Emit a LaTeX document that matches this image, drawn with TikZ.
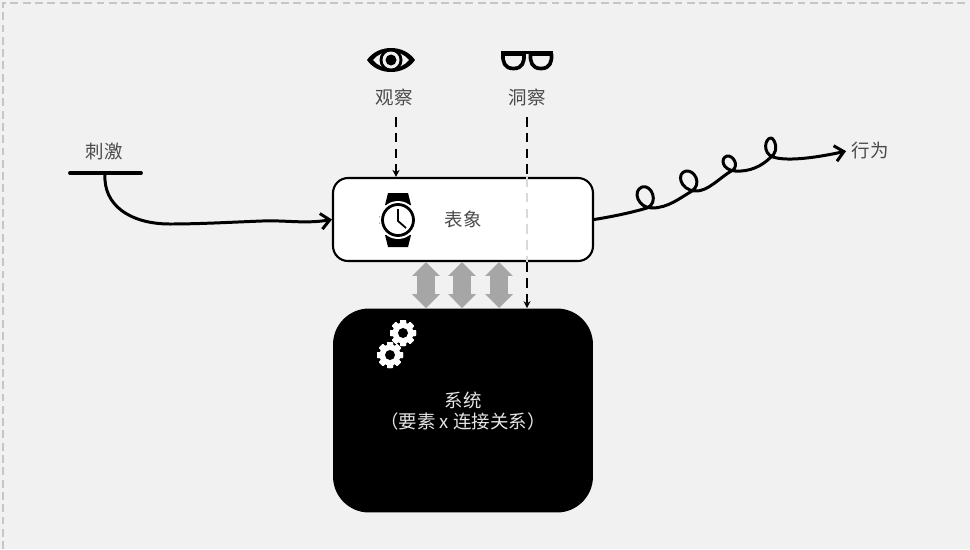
\documentclass[tikz,border=0pt]{standalone}
\usepackage{fontspec}
\setmainfont{Noto Sans CJK SC}
\usetikzlibrary{arrows.meta,shapes.arrows}
\definecolor{pagebg}{HTML}{F1F1F1}
\definecolor{labelgray}{HTML}{4A4A4A}
\definecolor{arrowgray}{HTML}{A6A6A6}
\tikzset{
    gearicon/.pic = {
        \fill[white] (0,0) circle (10.5);
        \foreach \a in {0,45,...,315} {
            \fill[white, rotate=\a, rounded corners = 0.4pt] (-3,-13) rectangle (3,13);
        }
        \fill[black] (0,0) circle (5);
    }
}
\begin{document}
\begin{tikzpicture}[
    x = 0.02cm, y = -0.02cm,
    label/.style = {
        text = labelgray,
        font = \fontsize{10.5pt}{12pt}\selectfont,
        inner sep = 0pt
    },
    reprbox/.style = {
        draw,
        fill = white,
        rectangle,
        rounded corners = 0.3cm,
        line width = 1.2pt,
        minimum width = 5.2cm,
        minimum height = 1.66cm
    },
    sysbox/.style = {
        fill = black,
        rectangle,
        rounded corners = 0.72cm,
        minimum width = 5.2cm,
        minimum height = 4.08cm
    },
    systext/.style = {
        text = white!90!black,
        align = center,
        font = \fontsize{10.5pt}{12pt}\selectfont,
        inner sep = 0pt
    },
    dbarrow/.style = {
        double arrow,
        fill = arrowgray,
        rotate = 90,
        minimum height = 0.92cm,
        inner xsep = 0pt,
        inner ysep = 0.17cm,
        double arrow head extend = 0.1cm,
        double arrow head indent = 0cm
    },
    peek/.style = {
        line width = 0.85pt,
        dash pattern = on 5.5pt off 3.5pt
    },
    hand/.style = {
        line width = 1.7pt,
        line cap = round,
        line join = round
    }
]
\useasboundingbox (0,0) rectangle (970,549);

% Page
\fill[pagebg] (0,0) rectangle (970,549);
\draw[gray!45, line width = 0.8pt, dash pattern = on 4.5pt off 2.5pt] (3,549) -- (3,3) -- (970,3);

% Boxes
\node[reprbox] (repr) at (463,219.5) {};
\node[sysbox] (sys) at (463,410.5) {};
\node[systext] (systxt) at (463,411.5) {系统\\（要素 x 连接关系）};
\node[label] (reprtext) at (463,219) {表象};

% Labels
\node[label] (obs) at (394,97) {观察};
\node[label] (ins) at (527,97) {洞察};
\node[label] (stim) at (104,151) {刺激};
\node[label] (act) at (870,150) {行为};
\coordinate (obstop) at (396,117);
\coordinate (instop) at (527,117);

% Eye
\fill[black] (367,60) .. controls (378,44) and (404,44) .. (415,60)
    .. controls (404,76) and (378,76) .. cycle;
\fill[pagebg] (373,60) .. controls (382,49) and (400,49) .. (409,60)
    .. controls (400,71) and (382,71) .. cycle;
\fill[black] (391,60) circle (11.5);
\fill[pagebg] (391,60) circle (8.5);
\fill[black] (391,60) circle (5.5);

% Glasses
\foreach \cx in {513.5,541} {
    \draw[line width = 2.1pt, line join = round] (\cx-10.5,54) -- (\cx+10.5,54)
        .. controls (\cx+11,62) and (\cx+9,68.5) .. (\cx,68.5)
        .. controls (\cx-9,68.5) and (\cx-11,62) .. cycle;
}
\draw[line width = 2pt] (501,52.5) -- (553,52.5);

% Watch
\fill[black] (388,193) -- (408,193) -- (411,205) -- (385,205) -- cycle;
\fill[black] (385,235) -- (411,235) -- (408,247) -- (388,247) -- cycle;
\fill[black] (379,216) rectangle (384,224);
\fill[white] (398,220) circle (19);
\draw[line width = 1.6pt, fill = white] (398,220) circle (15.5);
\draw[line width = 1pt] (398,209) -- (398,221) -- (406,228);

% Gears
\pic at (403,333) {gearicon};
\pic at (390,355) {gearicon};

% Double arrows between the boxes
\foreach \name/\px in {dba/426, dbb/462, dbc/499} {
    \node[dbarrow] (\name) at (\px,285) {};
}

% Dashed lines
\draw[peek, -{Stealth[length=4pt,width=4pt]}] (obstop) -- (obstop |- repr.north);
\draw[peek] (instop) -- (instop |- repr.north);
\draw[peek, gray!30] (instop |- repr.north) -- (instop |- repr.south);
\draw[peek, -{Stealth[length=4pt,width=4pt]}] (instop |- repr.south) -- (instop |- sys.north);

% Stimulus
\draw[hand, line width = 2.2pt] (70,173) -- (141,173);
\coordinate (stimbar) at (105,174);
\draw[hand, -{Straight Barb[length=5pt,width=9pt]}] (stimbar) .. controls (103,205) and (130,224) .. (170,224)
    .. controls (200,224) and (235,222) .. (262,221)
    .. controls (285,220) and (305,224) .. (repr.west);

% Behaviour
\draw[hand, -{Straight Barb[length=5pt,width=9pt]}, shorten >= 3pt] (repr.east)
    .. controls (610,217) and (630,213) .. (647,208)
    .. controls (659,203) and (652,184) .. (642,187)
    .. controls (632,191) and (638,208) .. (652,208)
    .. controls (668,208) and (680,198) .. (692,191)
    .. controls (702,184) and (695,170) .. (686,171)
    .. controls (676,173) and (680,190) .. (695,191)
    .. controls (708,192) and (720,177) .. (733,170)
    .. controls (739,165) and (733,155) .. (727,156)
    .. controls (720,158) and (722,170) .. (735,171)
    .. controls (750,172) and (762,166) .. (771,157)
    .. controls (780,150) and (774,138) .. (771,138)
    .. controls (765,138) and (762,153) .. (773,157)
    .. controls (785,161) and (810,159) .. (act.west);

\end{tikzpicture}
\end{document}
